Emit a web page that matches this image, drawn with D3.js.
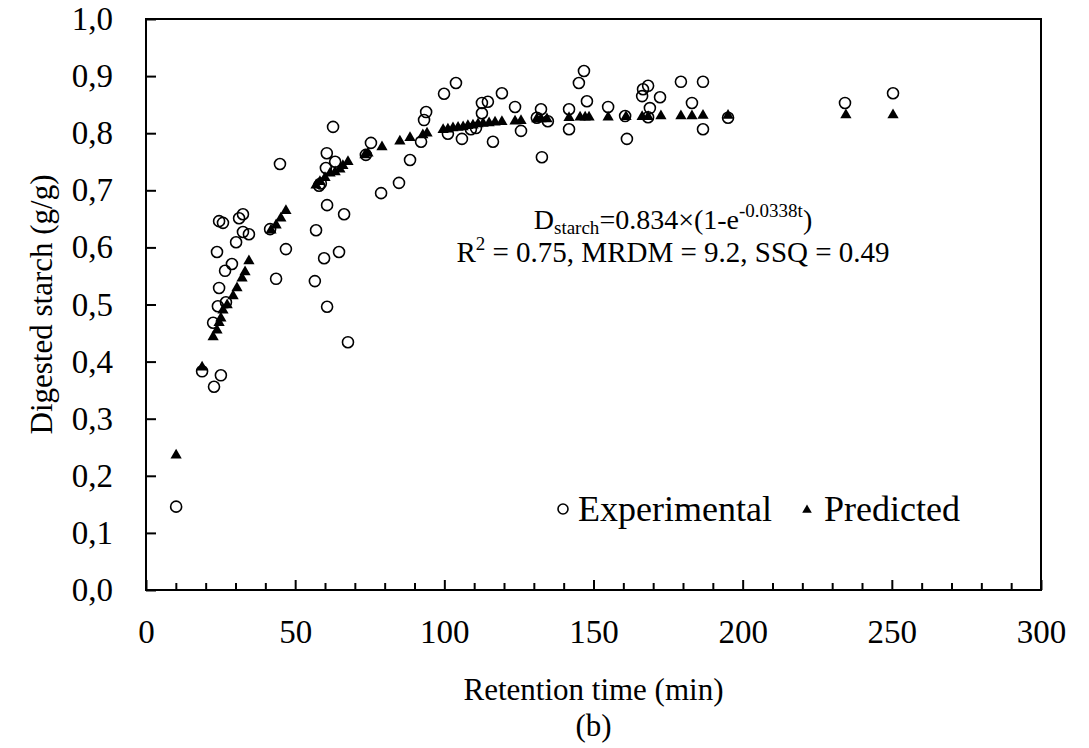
<!DOCTYPE html>
<html>
<head>
<meta charset="utf-8">
<script src="https://cdn.jsdelivr.net/npm/d3@7"></script>
<style>
  body { margin: 0; background: #fff; }
  svg text { fill: #000; }
</style>
</head>
<body>
<div id="chart"></div>
<script>
// experimental points (retention time, digested starch)
const expT = [10.1, 18.8, 22.8, 25.1, 22.5, 24.1, 26.8, 24.5, 26.5, 28.8, 23.8, 30.2, 24.5, 25.8, 31.2, 32.5, 32.5, 34.5,
  41.6, 43.6, 44.9, 46.9, 56.6, 57.0, 58.0, 58.6, 59.7, 60.3, 60.6, 60.7, 60.7, 62.7, 63.4, 64.7, 66.4, 67.7,
  73.7, 75.4, 78.8, 84.8, 88.5, 92.2, 93.2, 93.9, 99.9, 101.2, 103.9, 105.9, 108.9, 110.6, 112.6, 112.6, 114.6,
  116.3, 119.3, 123.7, 125.7, 131.0, 132.4, 132.7, 134.7, 141.8, 141.8, 145.1, 146.8, 147.8, 154.9, 160.6, 161.2,
  166.3, 166.6, 168.3, 168.9, 168.3, 172.3, 179.3, 183.0, 186.7, 186.7, 195.1, 234.3, 250.4];
const expD = [0.146, 0.383, 0.356, 0.376, 0.468, 0.497, 0.504, 0.529, 0.559, 0.571, 0.592, 0.609, 0.646, 0.643, 0.651, 0.658, 0.627, 0.623,
  0.632, 0.545, 0.746, 0.597, 0.541, 0.630, 0.708, 0.712, 0.581, 0.739, 0.765, 0.674, 0.496, 0.811, 0.750, 0.592, 0.658, 0.434,
  0.762, 0.783, 0.695, 0.713, 0.753, 0.785, 0.823, 0.837, 0.869, 0.799, 0.888, 0.790, 0.807, 0.809, 0.853, 0.835, 0.855,
  0.785, 0.870, 0.846, 0.804, 0.827, 0.842, 0.758, 0.821, 0.842, 0.807, 0.888, 0.909, 0.856, 0.846, 0.830, 0.790,
  0.865, 0.877, 0.883, 0.844, 0.828, 0.863, 0.890, 0.853, 0.890, 0.807, 0.827, 0.853, 0.870];

// predicted points
const predT = [10.1, 18.8, 22.5, 23.8, 24.5, 25.1, 25.8, 27.2, 29.2, 30.5, 32.2, 33.2, 34.5, 41.9, 43.6, 45.2, 46.9,
  57.0, 58.3, 60.0, 61.7, 63.4, 65.0, 66.0, 67.7, 73.4, 74.4, 79.1, 85.1, 88.5, 92.8, 94.2, 99.6, 101.2, 102.9,
  104.6, 106.3, 107.9, 109.6, 111.3, 113.0, 115.0, 117.0, 119.3, 123.7, 125.7, 131.0, 132.4, 134.4, 141.8, 145.5,
  147.2, 148.5, 154.9, 160.9, 166.3, 168.3, 172.6, 179.3, 183.0, 186.7, 195.1, 234.6, 250.4];
const predD = [0.236, 0.390, 0.443, 0.455, 0.468, 0.476, 0.490, 0.499, 0.515, 0.529, 0.546, 0.557, 0.576, 0.630, 0.639, 0.651, 0.664,
  0.709, 0.715, 0.722, 0.730, 0.732, 0.737, 0.743, 0.750, 0.762, 0.765, 0.776, 0.786, 0.792, 0.797, 0.800, 0.806, 0.807, 0.809,
  0.810, 0.811, 0.813, 0.814, 0.816, 0.817, 0.818, 0.819, 0.820, 0.821, 0.822, 0.825, 0.825, 0.825, 0.827, 0.828,
  0.828, 0.828, 0.828, 0.829, 0.829, 0.829, 0.830, 0.830, 0.830, 0.831, 0.831, 0.832, 0.832];

const xTicks = [0, 50, 100, 150, 200, 250, 300];
const yTicks = [0, 0.1, 0.2, 0.3, 0.4, 0.5, 0.6, 0.7, 0.8, 0.9, 1.0];

const W = 1089, H = 748;
const pLeft = 146, pTop = 19, pRight = 1041, pBottom = 590;
const serif = "'Times New Roman', Times, 'Liberation Serif', 'Noto Serif', 'DejaVu Serif', serif";

const svg = d3.select("#chart").append("svg")
  .attr("width", W)
  .attr("height", H)
  .attr("font-family", serif);

const x = d3.scaleLinear().domain([0, 300]).range([pLeft, pRight]);
const y = d3.scaleLinear().domain([0, 1]).range([pBottom, pTop]);
const comma = d => d3.format(".1f")(d).replace(".", ",");

// frame
svg.append("rect")
  .attr("x", pLeft).attr("y", pTop)
  .attr("width", pRight - pLeft).attr("height", pBottom - pTop)
  .attr("fill", "none").attr("stroke", "#000").attr("stroke-width", 2);

// y axis, inward ticks
const yAxis = svg.append("g")
  .attr("transform", `translate(${pLeft},0)`)
  .call(d3.axisLeft(y).tickValues(yTicks).tickSize(-10).tickPadding(33).tickFormat(comma))
  .attr("font-family", serif);
yAxis.select(".domain").remove();
yAxis.selectAll("line").attr("stroke-width", 2);
yAxis.selectAll("text").attr("font-size", 33);

// x axis minor ticks
svg.append("g")
  .attr("transform", `translate(0,${pBottom})`)
  .call(d3.axisBottom(x).tickValues(d3.range(10, 300, 10).filter(d => d % 50)).tickSize(-7).tickFormat(""))
  .call(g => g.select(".domain").remove())
  .selectAll("line").attr("stroke-width", 2);

// x axis major
const xAxis = svg.append("g")
  .attr("transform", `translate(0,${pBottom})`)
  .call(d3.axisBottom(x).tickValues(xTicks).tickSize(-10).tickPadding(30))
  .attr("font-family", serif);
xAxis.select(".domain").remove();
xAxis.selectAll("line").attr("stroke-width", 2);
xAxis.selectAll("text").attr("font-size", 33);

// axis titles
svg.append("text")
  .attr("x", (pLeft + pRight) / 2)
  .attr("y", 700)
  .attr("text-anchor", "middle")
  .attr("font-size", 31)
  .text("Retention time (min)");

svg.append("text")
  .attr("x", (pLeft + pRight) / 2)
  .attr("y", 736)
  .attr("text-anchor", "middle")
  .attr("font-size", 31)
  .text("(b)");

svg.append("text")
  .attr("text-anchor", "middle")
  .attr("transform", `translate(52,${(pTop + pBottom) / 2})rotate(-90)`)
  .attr("font-size", 31)
  .text("Digested starch (g/g)");

// series
const triangle = d3.symbol().type(d3.symbolTriangle).size(55);

svg.append("g").selectAll("circle")
  .data(expT.map((t, i) => [t, expD[i]]))
  .join("circle")
  .attr("cx", d => x(d[0]))
  .attr("cy", d => y(d[1]))
  .attr("r", 5.5)
  .attr("fill", "none")
  .attr("stroke", "#000")
  .attr("stroke-width", 1.6);

svg.append("g").selectAll("path")
  .data(predT.map((t, i) => [t, predD[i]]))
  .join("path")
  .attr("d", triangle)
  .attr("transform", d => `translate(${x(d[0])},${y(d[1])})`)
  .attr("fill", "#000");

// equation
const eq = svg.append("text")
  .attr("x", 673).attr("y", 229)
  .attr("text-anchor", "middle")
  .attr("font-size", 28);
eq.append("tspan").text("D");
eq.append("tspan").attr("dy", 5).attr("font-size", 19).text("starch");
eq.append("tspan").attr("dy", -5).text("=0.834×(1-e");
eq.append("tspan").attr("dy", -12).attr("font-size", 19).text("-0.0338t");
eq.append("tspan").attr("dy", 12).text(")");

const r2 = svg.append("text")
  .attr("x", 673).attr("y", 262)
  .attr("text-anchor", "middle")
  .attr("font-size", 29);
r2.append("tspan").text("R");
r2.append("tspan").attr("dy", -12).attr("font-size", 19).text("2");
r2.append("tspan").attr("dy", 12).text(" = 0.75, MRDM = 9.2, SSQ = 0.49");

// legend
const legend = svg.append("g");
legend.append("circle")
  .attr("cx", 563).attr("cy", 509).attr("r", 5)
  .attr("fill", "none").attr("stroke", "#000").attr("stroke-width", 1.6);
legend.append("text")
  .attr("x", 578).attr("y", 521)
  .attr("font-size", 36)
  .text("Experimental");
legend.append("path")
  .attr("d", d3.symbol().type(d3.symbolTriangle).size(40))
  .attr("transform", "translate(807,510)");
legend.append("text")
  .attr("x", 824).attr("y", 521)
  .attr("font-size", 36)
  .text("Predicted");
</script>
</body>
</html>
